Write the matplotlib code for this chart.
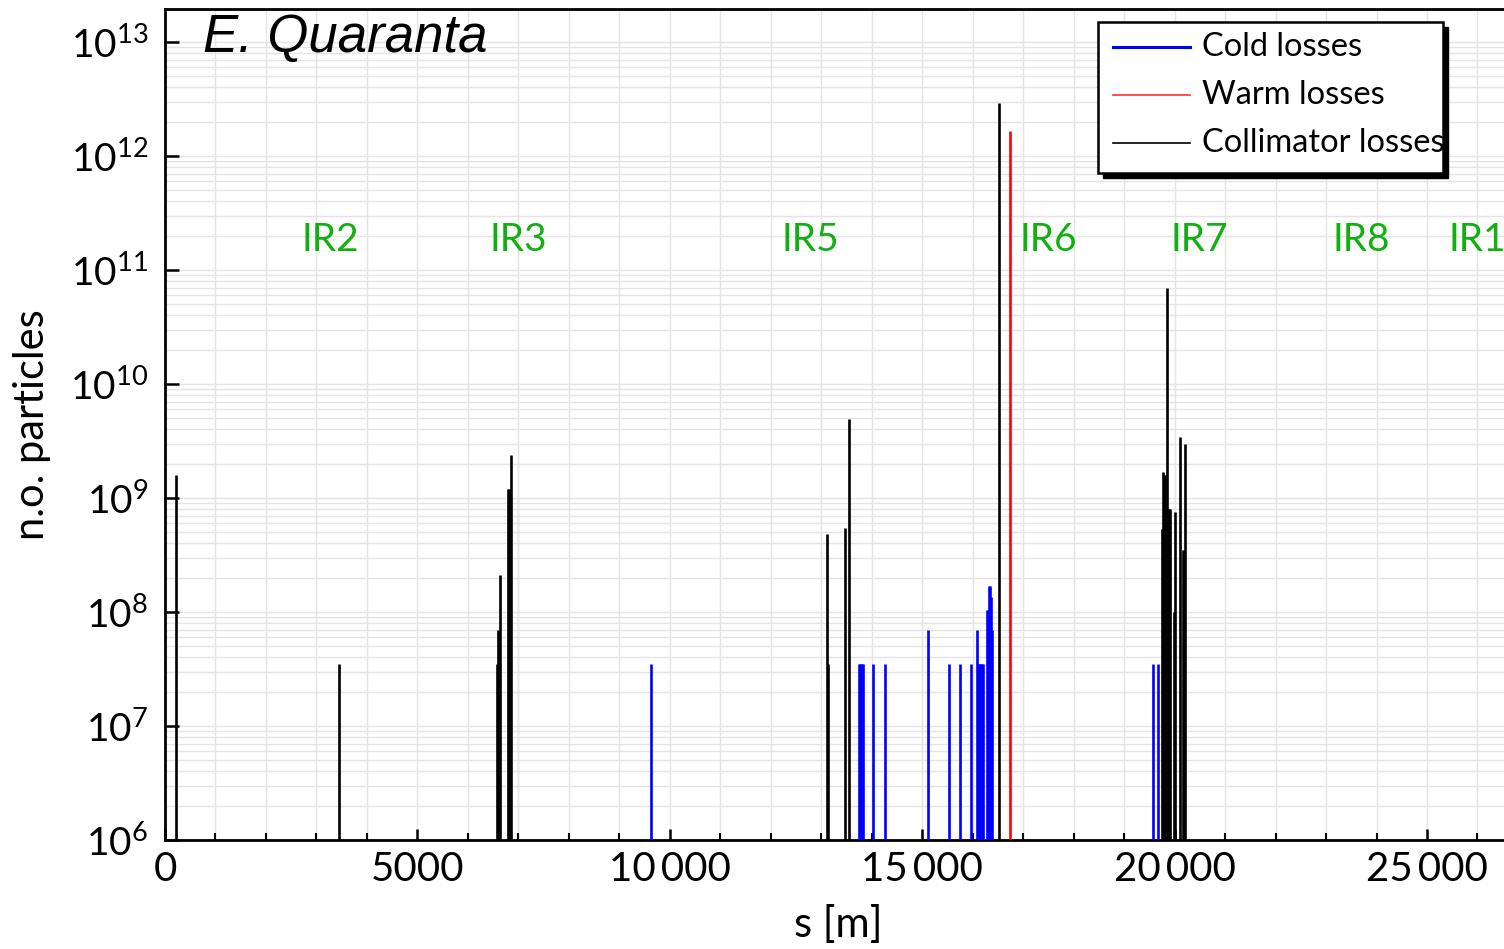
import matplotlib
matplotlib.use("Agg")
import matplotlib.pyplot as plt
from matplotlib.patches import Rectangle
from matplotlib.lines import Line2D
from matplotlib.ticker import FixedLocator, LogLocator, NullFormatter, MultipleLocator

plt.rcParams['font.family'] = ['Lato', 'DejaVu Sans']
plt.rcParams['mathtext.default'] = 'regular'

# ---------------- data ----------------
cold_s = [9627, 13748, 13768, 13788, 13808, 13827, 14025, 14263, 15115, 15531,
          15749, 15967, 16086, 16105, 16125, 16145, 16165, 16185, 16204,
          16284, 16303, 16323, 16343, 16363, 16383, 19572, 19671]
cold_n = [3.5e7, 3.5e7, 3.5e7, 3.5e7, 3.5e7, 3.5e7, 3.5e7, 3.5e7, 7e7, 3.5e7,
          3.5e7, 3.5e7, 7e7, 3.5e7, 3.5e7, 3.5e7, 3.5e7, 3.5e7, 3.5e7,
          1.05e8, 1.05e8, 1.7e8, 1.7e8, 1.35e8, 7e7, 3.5e7, 3.5e7]

warm_s = [16739]
warm_n = [1.66e12]

coll_s = [218, 3447, 6577, 6597, 6636, 6795, 6815, 6854,
          13114, 13134, 13471, 13550, 16521,
          19750, 19770, 19790, 19810, 19850, 19869, 19889, 19909,
          19988, 20008, 20107, 20166, 20186, 20206]
coll_n = [1.6e9, 3.5e7, 3.5e7, 7e7, 2.1e8, 1.2e9, 1.2e9, 2.4e9,
          4.8e8, 3.5e7, 5.5e8, 4.9e9, 2.9e12,
          5.3e8, 1.7e9, 1.6e9, 1.6e9, 7e10, 8e8, 8e8, 8e8,
          1e8, 7.6e8, 3.4e9, 3.5e8, 3.5e8, 3e9]

ir_labels = ["IR2", "IR3", "IR5", "IR6", "IR7", "IR8", "IR1"]
ir_pos = [3269, 6993, 12778, 17492, 20483, 23693, 25990]

x_ticks = [0, 5000, 10000, 15000, 20000, 25000]
x_tick_labels = ["0", "5000", "10\u2009000", "15\u2009000", "20\u2009000", "25\u2009000"]
y_exps = [6, 7, 8, 9, 10, 11, 12, 13]

legend_labels = ["Cold losses", "Warm losses", "Collimator losses"]
legend_colors = ["#0000ff", "#ff3030", "#000000"]

# ---------------- figure ----------------
W, H = 1504, 949
fig = plt.figure(figsize=(W / 100, H / 100), dpi=100)
ax_l, ax_r, ax_t, ax_b = 165, 165 + 26659 * 0.05048, 9, 840
ax = fig.add_axes([ax_l / W, 1 - ax_b / H, (ax_r - ax_l) / W, (ax_b - ax_t) / H])

ymin = 1e6
ax.set_yscale('log')
ax.set_xlim(0, 26659)
ax.set_ylim(ymin, 10 ** (6 + (ax_b - ax_t) / 114.0))

ax.vlines(coll_s, ymin, coll_n, colors='black', linewidth=1.9, zorder=3)
ax.vlines(cold_s, ymin, cold_n, colors='#0000ff', linewidth=1.9, zorder=3)
ax.vlines(warm_s, ymin, warm_n, colors='#ff0000', linewidth=1.9, zorder=3)

# ticks
ax.xaxis.set_major_locator(FixedLocator(x_ticks))
ax.set_xticklabels(x_tick_labels)
ax.xaxis.set_minor_locator(MultipleLocator(1000))
ax.yaxis.set_major_locator(FixedLocator([10.0 ** e for e in y_exps]))
ax.set_yticklabels([f"$10^{{{e}}}$" for e in y_exps])
ax.yaxis.set_minor_locator(LogLocator(base=10, subs=range(2, 10), numticks=50))
ax.yaxis.set_minor_formatter(NullFormatter())

ax.tick_params(axis='x', which='major', direction='in', length=8, width=1.8,
               labelsize=29, pad=8, top=False)
ax.tick_params(axis='x', which='minor', direction='in', length=5, width=1.5, top=False)
ax.tick_params(axis='y', which='major', direction='in', length=10, width=1.8,
               labelsize=28, pad=12, right=False)
ax.tick_params(axis='y', which='minor', length=0, right=False)

ax.grid(True, which='both', color='#e4e4e4', linewidth=1.0, zorder=0)
ax.set_axisbelow(True)
for side in ['left', 'bottom', 'top']:
    ax.spines[side].set_linewidth(2)
    ax.spines[side].set_color('black')
ax.spines['right'].set_visible(False)

ax.set_xlabel("s [m]", fontsize=30, labelpad=12)
ax.set_ylabel("n.o. particles", fontsize=30, labelpad=14)

# title text
fig.text(203 / W, 1 - 38 / H, "E. Quaranta", family='Liberation Sans', style='italic',
         fontsize=38, va='center', ha='left')

# IR labels
for lab, pos in zip(ir_labels, ir_pos):
    ax.text(pos, 10 ** (6 + (840 - 240) / 114.0), lab, color='#10b010', fontsize=28,
            ha='center', va='center', zorder=4)

# legend (manual, clipped)
lx0, ly0, lx1, ly1 = 1098, 22, 1443, 173
shadow = Rectangle((lx0 / W + 5 / W, 1 - ly1 / H - 5 / H), (lx1 - lx0) / W, (ly1 - ly0) / H,
                   transform=fig.transFigure, facecolor='black', edgecolor='black', zorder=10)
box = Rectangle((lx0 / W, 1 - ly1 / H), (lx1 - lx0) / W, (ly1 - ly0) / H,
                transform=fig.transFigure, facecolor='white', edgecolor='black',
                linewidth=1.8, zorder=11)
fig.add_artist(shadow)
fig.add_artist(box)
for i, (lab, col) in enumerate(zip(legend_labels, legend_colors)):
    yy = 1 - (47 + 48 * i) / H
    ln = Line2D([1113 / W, 1190 / W], [yy, yy], transform=fig.transFigure,
                color=col, linewidth=2.2 if i == 0 else 1.2, zorder=12)
    fig.add_artist(ln)
    t = fig.text(1202 / W, yy, lab, fontsize=23.5, va='center', ha='left', zorder=12)
    t.set_clip_path(box)

fig.savefig("out.png", dpi=100)
